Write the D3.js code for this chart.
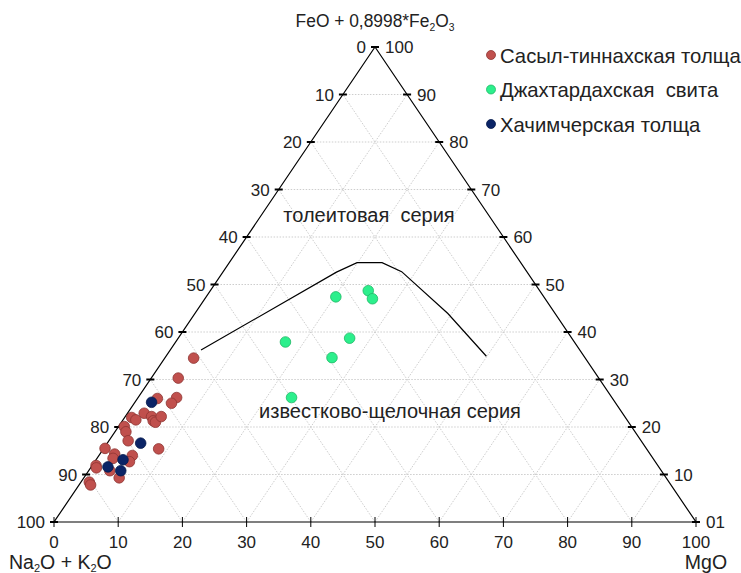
<!DOCTYPE html>
<html>
<head>
<meta charset="utf-8">
<script src="https://cdn.jsdelivr.net/npm/d3@7"></script>
<style>
  body { margin: 0; background: #fff; }
  svg { font-family: "Liberation Sans", Arial, sans-serif; }
</style>
</head>
<body>
<div id="chart"></div>
<script>
// components: F = FeO + 0.8998*Fe2O3 (top), M = MgO (right), A = 100 - F - M (left)
const seriesNames = ["Сасыл-тиннахская толща", "Джахтардахская  свита", "Хачимчерская толща"];
const seriesColors = ["#c0504d", "#2cef8c", "#0b2466"];
const seriesStroke = ["#8e3532", "#1fb766", "#061a4d"];

const sasylF = [34.5, 30.3, 26.0, 26.2, 25.0, 22.9, 22.0, 21.5, 22.2, 21.3, 21.0, 22.2, 20.1, 19.0,
                17.1, 15.4, 15.5, 14.3, 13.4, 14.0, 12.7, 11.9, 11.4, 10.8, 9.3, 8.4, 7.8];
const sasylM = [4.5, 4.2, 3.1, 6.0, 5.8, 2.6, 1.1, 2.0, 4.1, 4.8, 5.3, 5.6, 0.9, 1.7,
                3.0, 8.6, 0.2, 2.3, 2.5, 5.2, 5.4, 0.6, 0.9, 3.3, 5.5, 1.3, 1.8];

const dzhaF = [47.4, 48.7, 47.0, 37.9, 38.7, 34.6, 26.2];
const dzhaM = [20.2, 24.6, 26.1, 17.1, 26.7, 26.0, 23.9];

const khachF = [25.2, 16.6, 13.1, 11.6, 10.8];
const khachM = [2.6, 5.2, 4.2, 2.6, 5.0];

// tholeiitic / calc-alkaline boundary
const boundF = [36.2, 52.6, 54.6, 54.6, 52.7, 43.9, 34.9];
const boundM = [4.8, 17.7, 19.9, 23.8, 27.8, 39.4, 49.9];

const ticks = [0, 10, 20, 30, 40, 50, 60, 70, 80, 90, 100];
const rightTickLabels = ["01", "10", "20", "30", "40", "50", "60", "70", "80", "90", "100"];

const width = 741, height = 573;
const svg = d3.select("#chart").append("svg")
    .attr("width", width)
    .attr("height", height);

// horizontal position from (M + F/2), vertical from F
const x = d3.scaleLinear().domain([0, 100]).range([54, 696]);
const y = d3.scaleLinear().domain([0, 100]).range([522, 47]);
const px = (f, m) => x(m + f / 2);
const py = (f) => y(f);

// grid
const grid = svg.append("g")
    .attr("stroke", "#cdcdcd")
    .attr("stroke-width", 1)
    .attr("stroke-dasharray", "1.5,1.5")
    .attr("fill", "none");
ticks.slice(1, -1).forEach(k => {
  // F = k
  grid.append("line")
      .attr("x1", px(k, 0)).attr("y1", py(k))
      .attr("x2", px(k, 100 - k)).attr("y2", py(k));
  // M = k
  grid.append("line")
      .attr("x1", px(0, k)).attr("y1", py(0))
      .attr("x2", px(100 - k, k)).attr("y2", py(100 - k));
  // A = k
  grid.append("line")
      .attr("x1", px(0, 100 - k)).attr("y1", py(0))
      .attr("x2", px(100 - k, 0)).attr("y2", py(100 - k));
});

// triangle
svg.append("path")
    .attr("d", d3.line()([[px(0, 0), py(0)], [px(0, 100), py(0)], [px(100, 0), py(100)]]) + "Z")
    .attr("fill", "none")
    .attr("stroke", "#000")
    .attr("stroke-width", 1.2);

// ticks and labels
const axis = svg.append("g").attr("font-size", 17).attr("fill", "#222");
ticks.forEach((k, i) => {
  // bottom (MgO)
  axis.append("line")
      .attr("x1", px(0, k)).attr("x2", px(0, k))
      .attr("y1", py(0) - 5).attr("y2", py(0) + 5)
      .attr("stroke", "#000");
  axis.append("text")
      .attr("x", px(0, k)).attr("y", py(0) + 26)
      .attr("text-anchor", "middle")
      .text(k);
  // left edge (M = 0), label 100 - F
  const f = 100 - k;
  axis.append("line")
      .attr("x1", px(f, 0) - 4).attr("x2", px(f, 0) + 4)
      .attr("y1", py(f)).attr("y2", py(f))
      .attr("stroke", "#000").attr("stroke-width", 2);
  axis.append("text")
      .attr("x", px(f, 0) - 9).attr("y", py(f) + 6)
      .attr("text-anchor", "end")
      .text(k);
  // right edge (A = 0), label F
  axis.append("line")
      .attr("x1", px(k, 100 - k) - 4).attr("x2", px(k, 100 - k) + 4)
      .attr("y1", py(k)).attr("y2", py(k))
      .attr("stroke", "#000").attr("stroke-width", 2);
  axis.append("text")
      .attr("x", px(k, 100 - k) + 10).attr("y", py(k) + 6)
      .attr("text-anchor", "start")
      .text(rightTickLabels[i]);
});

// axis titles
const titles = svg.append("g").attr("fill", "#222");
const topTitle = titles.append("text")
    .attr("transform", "translate(375,27) scale(0.94,1)")
    .attr("font-size", 18.5).attr("text-anchor", "middle");
topTitle.append("tspan").text("FeO + 0,8998*Fe");
topTitle.append("tspan").attr("font-size", 11).attr("dy", 4).text("2");
topTitle.append("tspan").attr("dy", -4).text("O");
topTitle.append("tspan").attr("font-size", 11).attr("dy", 4).text("3");

const leftTitle = titles.append("text").attr("x", 9).attr("y", 569).attr("font-size", 19.5);
leftTitle.append("tspan").text("Na");
leftTitle.append("tspan").attr("font-size", 11).attr("dy", 3).text("2");
leftTitle.append("tspan").attr("dy", -3).text("O + K");
leftTitle.append("tspan").attr("font-size", 11).attr("dy", 3).text("2");
leftTitle.append("tspan").attr("dy", -3).text("O");

titles.append("text").attr("x", 706).attr("y", 569).attr("font-size", 19.5)
    .attr("text-anchor", "middle").text("MgO");

// boundary line
svg.append("path")
    .datum(d3.zip(boundF, boundM))
    .attr("d", d3.line().x(d => px(d[0], d[1])).y(d => py(d[0])))
    .attr("fill", "none")
    .attr("stroke", "#000")
    .attr("stroke-width", 1.2);

// field labels
svg.append("text").attr("x", 369).attr("y", 222).attr("text-anchor", "middle")
    .attr("font-size", 20).attr("fill", "#222")
    .style("white-space", "pre")
    .text("толеитовая  серия");
svg.append("text").attr("x", 390).attr("y", 418).attr("text-anchor", "middle")
    .attr("font-size", 20).attr("fill", "#222")
    .text("известково-щелочная серия");

// points
const series = [
  d3.zip(sasylF, sasylM),
  d3.zip(dzhaF, dzhaM),
  d3.zip(khachF, khachM)
];
series.forEach((pts, i) => {
  svg.append("g").selectAll("circle")
      .data(pts)
      .join("circle")
      .attr("cx", d => px(d[0], d[1]))
      .attr("cy", d => py(d[0]))
      .attr("r", 5.3)
      .attr("fill", seriesColors[i])
      .attr("stroke", seriesStroke[i])
      .attr("stroke-width", 0.8);
});

// legend
const legend = svg.append("g").attr("transform", "translate(491,55)");
seriesNames.forEach((name, i) => {
  const g = legend.append("g").attr("transform", `translate(0,${i * 34.5})`);
  g.append("circle").attr("r", 4.5)
      .attr("fill", seriesColors[i]).attr("stroke", seriesStroke[i]).attr("stroke-width", 0.8);
  g.append("text").attr("x", 9).attr("y", 7.5)
      .attr("font-size", 20.3).attr("fill", "#222")
      .style("white-space", "pre")
      .text(name);
});
</script>
</body>
</html>
